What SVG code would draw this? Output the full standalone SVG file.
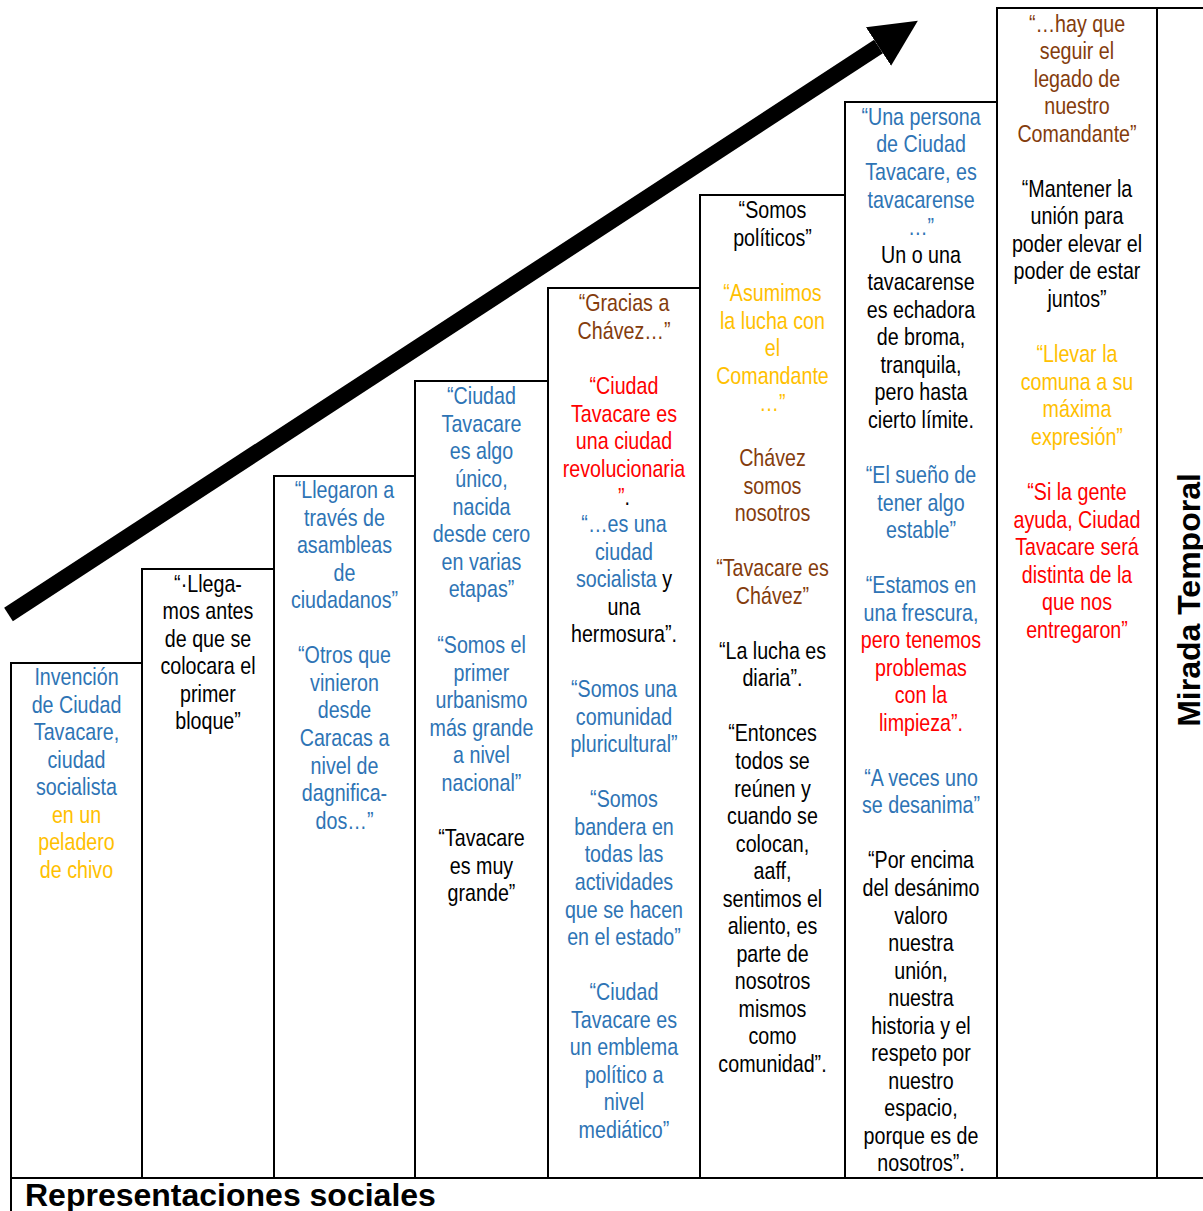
<svg xmlns="http://www.w3.org/2000/svg" width="1203" height="1211" viewBox="0 0 1203 1211">
<style>
.box{fill:#fff;stroke:#000;stroke-width:2}
.t{font-family:"Liberation Sans Narrow","Arial Narrow","Liberation Sans",Arial,sans-serif;font-size:24px;text-anchor:middle}
.b{fill:#2E74B5}.o{fill:#FFC000}.br{fill:#843C0C}.r{fill:#FF0000}.k{fill:#000}
.h{font-family:"Liberation Sans",Arial,sans-serif;font-weight:bold;font-size:32px;fill:#000}
</style>
<defs>
<marker id="head" markerUnits="userSpaceOnUse" markerWidth="50" markerHeight="50" viewBox="0 -25 50 50" refX="0" refY="0" orient="auto">
<path d="M0,-23 L47,0 L0,23 Z" fill="#000"/>
</marker>
</defs>
<rect width="1203" height="1211" fill="#fff"/>
<g id="bottom">
<rect class="box" x="11" y="1178" width="1200" height="50"/>
<text class="h" x="25" y="1206">Representaciones sociales</text>
</g>
<g id="col9">
<rect class="box" x="1157" y="8" width="60" height="1170"/>
<text class="h" transform="translate(1200,600) rotate(-90)" text-anchor="middle">Mirada Temporal</text>
</g>
<g id="col1">
<rect class="box" x="11" y="663" width="131" height="515"/>
<g transform="matrix(0.82 0 0 1 13.77 0)">
<text class="t b"><tspan x="76.5" y="685">Invención</tspan><tspan x="76.5" y="713">de Ciudad</tspan><tspan x="76.5" y="740">Tavacare,</tspan><tspan x="76.5" y="768">ciudad</tspan><tspan x="76.5" y="795">socialista</tspan></text>
<text class="t o"><tspan x="76.5" y="823">en un</tspan><tspan x="76.5" y="850">peladero</tspan><tspan x="76.5" y="878">de chivo</tspan></text>
</g>
</g>
<g id="col2">
<rect class="box" x="142" y="569" width="132" height="609"/>
<g transform="matrix(0.82 0 0 1 37.44 0)">
<text class="t k"><tspan x="208" y="592">“·Llega-</tspan><tspan x="208" y="619">mos antes</tspan><tspan x="208" y="647">de que se</tspan><tspan x="208" y="674">colocara el</tspan><tspan x="208" y="702">primer</tspan><tspan x="208" y="729">bloque”</tspan></text>
</g>
</g>
<g id="col3">
<rect class="box" x="274" y="476" width="141" height="702"/>
<g transform="matrix(0.82 0 0 1 62.01 0)">
<text class="t b"><tspan x="344.5" y="498">“Llegaron a</tspan><tspan x="344.5" y="526">través de</tspan><tspan x="344.5" y="553">asambleas</tspan><tspan x="344.5" y="581">de</tspan><tspan x="344.5" y="608">ciudadanos”</tspan><tspan x="344.5" y="663">“Otros que</tspan><tspan x="344.5" y="691">vinieron</tspan><tspan x="344.5" y="718">desde</tspan><tspan x="344.5" y="746">Caracas a</tspan><tspan x="344.5" y="774">nivel de</tspan><tspan x="344.5" y="801">dagnifica-</tspan><tspan x="344.5" y="829">dos…”</tspan></text>
</g>
</g>
<g id="col4">
<rect class="box" x="415" y="381" width="133" height="797"/>
<g transform="matrix(0.82 0 0 1 86.67 0)">
<text class="t b"><tspan x="481.5" y="404">“Ciudad</tspan><tspan x="481.5" y="432">Tavacare</tspan><tspan x="481.5" y="459">es algo</tspan><tspan x="481.5" y="487">único,</tspan><tspan x="481.5" y="515">nacida</tspan><tspan x="481.5" y="542">desde cero</tspan><tspan x="481.5" y="570">en varias</tspan><tspan x="481.5" y="597">etapas”</tspan><tspan x="481.5" y="653">“Somos el</tspan><tspan x="481.5" y="681">primer</tspan><tspan x="481.5" y="708">urbanismo</tspan><tspan x="481.5" y="736">más grande</tspan><tspan x="481.5" y="763">a nivel</tspan><tspan x="481.5" y="791">nacional”</tspan></text>
<text class="t k"><tspan x="481.5" y="846">“Tavacare</tspan><tspan x="481.5" y="874">es muy</tspan><tspan x="481.5" y="901">grande”</tspan></text>
</g>
</g>
<g id="col5">
<rect class="box" x="548" y="288" width="152" height="890"/>
<g transform="matrix(0.82 0 0 1 112.32 0)">
<text class="t br"><tspan x="624" y="311">“Gracias a</tspan><tspan x="624" y="339">Chávez…”</tspan></text>
<text class="t r"><tspan x="624" y="394">“Ciudad</tspan><tspan x="624" y="422">Tavacare es</tspan><tspan x="624" y="449">una ciudad</tspan><tspan x="624" y="477">revolucionaria</tspan></text>
<text class="t" x="624" y="505"><tspan class="r">”</tspan><tspan class="k">.</tspan></text>
<text class="t b"><tspan x="624" y="532">“…es una</tspan><tspan x="624" y="560">ciudad</tspan></text>
<text class="t" x="624" y="587"><tspan class="b">socialista</tspan><tspan class="k"> y</tspan></text>
<text class="t k"><tspan x="624" y="615">una</tspan><tspan x="624" y="642">hermosura”.</tspan></text>
<text class="t b"><tspan x="624" y="697">“Somos una</tspan><tspan x="624" y="725">comunidad</tspan><tspan x="624" y="752">pluricultural”</tspan><tspan x="624" y="807">“Somos</tspan><tspan x="624" y="835">bandera en</tspan><tspan x="624" y="862">todas las</tspan><tspan x="624" y="890">actividades</tspan><tspan x="624" y="918">que se hacen</tspan><tspan x="624" y="945">en el estado”</tspan><tspan x="624" y="1000">“Ciudad</tspan><tspan x="624" y="1028">Tavacare es</tspan><tspan x="624" y="1055">un emblema</tspan><tspan x="624" y="1083">político a</tspan><tspan x="624" y="1110">nivel</tspan><tspan x="624" y="1138">mediático”</tspan></text>
</g>
</g>
<g id="col6">
<rect class="box" x="700" y="195" width="145" height="983"/>
<g transform="matrix(0.82 0 0 1 139.05 0)">
<text class="t k"><tspan x="772.5" y="218">“Somos</tspan><tspan x="772.5" y="246">políticos”</tspan></text>
<text class="t o"><tspan x="772.5" y="301">“Asumimos</tspan><tspan x="772.5" y="329">la lucha con</tspan><tspan x="772.5" y="356">el</tspan><tspan x="772.5" y="384">Comandante</tspan><tspan x="772.5" y="411">…”</tspan></text>
<text class="t br"><tspan x="772.5" y="466">Chávez</tspan><tspan x="772.5" y="494">somos</tspan><tspan x="772.5" y="521">nosotros</tspan><tspan x="772.5" y="576">“Tavacare es</tspan><tspan x="772.5" y="604">Chávez”</tspan></text>
<text class="t k"><tspan x="772.5" y="659">“La lucha es</tspan><tspan x="772.5" y="686">diaria”.</tspan><tspan x="772.5" y="741">“Entonces</tspan><tspan x="772.5" y="769">todos se</tspan><tspan x="772.5" y="797">reúnen y</tspan><tspan x="772.5" y="824">cuando se</tspan><tspan x="772.5" y="852">colocan,</tspan><tspan x="772.5" y="879">aaff,</tspan><tspan x="772.5" y="907">sentimos el</tspan><tspan x="772.5" y="934">aliento, es</tspan><tspan x="772.5" y="962">parte de</tspan><tspan x="772.5" y="989">nosotros</tspan><tspan x="772.5" y="1017">mismos</tspan><tspan x="772.5" y="1044">como</tspan><tspan x="772.5" y="1072">comunidad”.</tspan></text>
</g>
</g>
<g id="col7">
<rect class="box" x="845" y="102" width="152" height="1076"/>
<g transform="matrix(0.82 0 0 1 165.78 0)">
<text class="t b"><tspan x="921" y="125">“Una persona</tspan><tspan x="921" y="152">de Ciudad</tspan><tspan x="921" y="180">Tavacare, es</tspan><tspan x="921" y="208">tavacarense</tspan><tspan x="921" y="235">…”</tspan></text>
<text class="t k"><tspan x="921" y="263">Un o una</tspan><tspan x="921" y="290">tavacarense</tspan><tspan x="921" y="318">es echadora</tspan><tspan x="921" y="345">de broma,</tspan><tspan x="921" y="373">tranquila,</tspan><tspan x="921" y="400">pero hasta</tspan><tspan x="921" y="428">cierto límite.</tspan></text>
<text class="t b"><tspan x="921" y="483">“El sueño de</tspan><tspan x="921" y="511">tener algo</tspan><tspan x="921" y="538">estable”</tspan><tspan x="921" y="593">“Estamos en</tspan><tspan x="921" y="621">una frescura,</tspan></text>
<text class="t r"><tspan x="921" y="648">pero tenemos</tspan><tspan x="921" y="676">problemas</tspan><tspan x="921" y="703">con la</tspan><tspan x="921" y="731">limpieza”.</tspan></text>
<text class="t b"><tspan x="921" y="786">“A veces uno</tspan><tspan x="921" y="813">se desanima”</tspan></text>
<text class="t k"><tspan x="921" y="868">“Por encima</tspan><tspan x="921" y="896">del desánimo</tspan><tspan x="921" y="924">valoro</tspan><tspan x="921" y="951">nuestra</tspan><tspan x="921" y="979">unión,</tspan><tspan x="921" y="1006">nuestra</tspan><tspan x="921" y="1034">historia y el</tspan><tspan x="921" y="1061">respeto por</tspan><tspan x="921" y="1089">nuestro</tspan><tspan x="921" y="1116">espacio,</tspan><tspan x="921" y="1144">porque es de</tspan><tspan x="921" y="1171">nosotros”.</tspan></text>
</g>
</g>
<g id="col8">
<rect class="box" x="997" y="8" width="160" height="1170"/>
<g transform="matrix(0.82 0 0 1 193.86 0)">
<text class="t br"><tspan x="1077" y="32">“…hay que</tspan><tspan x="1077" y="59">seguir el</tspan><tspan x="1077" y="87">legado de</tspan><tspan x="1077" y="114">nuestro</tspan><tspan x="1077" y="142">Comandante”</tspan></text>
<text class="t k"><tspan x="1077" y="197">“Mantener la</tspan><tspan x="1077" y="224">unión para</tspan><tspan x="1077" y="252">poder elevar el</tspan><tspan x="1077" y="279">poder de estar</tspan><tspan x="1077" y="307">juntos”</tspan></text>
<text class="t o"><tspan x="1077" y="362">“Llevar la</tspan><tspan x="1077" y="390">comuna a su</tspan><tspan x="1077" y="417">máxima</tspan><tspan x="1077" y="445">expresión”</tspan></text>
<text class="t r"><tspan x="1077" y="500">“Si la gente</tspan><tspan x="1077" y="528">ayuda, Ciudad</tspan><tspan x="1077" y="555">Tavacare será</tspan><tspan x="1077" y="583">distinta de la</tspan><tspan x="1077" y="610">que nos</tspan><tspan x="1077" y="638">entregaron”</tspan></text>
</g>
</g>
<g id="connectors">
<line x1="8.5" y1="614.5" x2="878.5" y2="46.5" stroke="#000" stroke-width="16" marker-end="url(#head)"/>
</g>
</svg>
